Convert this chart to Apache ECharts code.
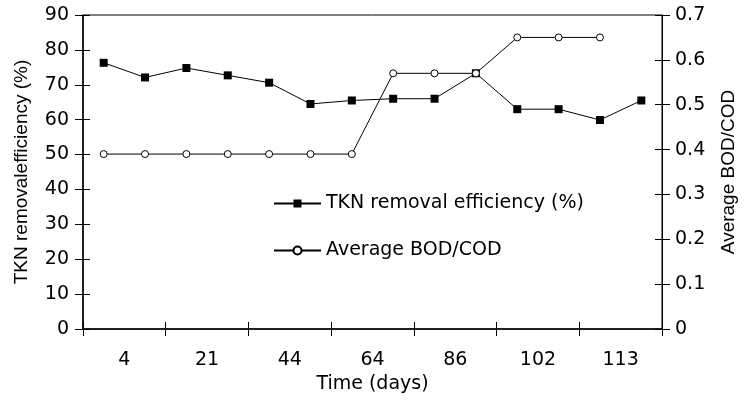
<!DOCTYPE html>
<html>
<head>
<meta charset="utf-8">
<script src="https://cdn.jsdelivr.net/npm/echarts@6/dist/echarts.min.js"></script>
<style>
  html, body { margin: 0; padding: 0; background: #fff; }
  #chart { width: 747px; height: 406px; }
</style>
</head>
<body>
<div id="chart"></div>
<script>
// sampling points (two per labelled period)
const samples = ['1', '2', '3', '4', '5', '6', '7', '8', '9', '10', '11', '12', '13', '14']
// labels printed under the axis
const dayLabels = ['4', '21', '44', '64', '86', '102', '113']
const tknRemoval = [76.3, 72.1, 74.8, 72.7, 70.6, 64.5, 65.5, 66, 66, 73.3, 63, 63, 59.9, 65.5]
const bodCod = [0.39, 0.39, 0.39, 0.39, 0.39, 0.39, 0.39, 0.57, 0.57, 0.57, 0.65, 0.65, 0.65, null]

// the original is a bit wider than tall, so horizontal text uses a wider face
const wideFont = 'DejaVu Sans, sans-serif'
const tallFont = 'Liberation Sans, Arial, sans-serif'
const black = '#000'

let chartDom = document.getElementById('chart')
let myChart = echarts.init(chartDom)

let labelText = { color: black, fontSize: 19, fontFamily: wideFont }
let sideName = { color: black, fontSize: 19, fontFamily: tallFont }

let option = {
  animation: false,
  backgroundColor: '#fff',
  grid: {
    left: 83,
    right: 85,
    top: 15,
    bottom: 77,
    show: true,
    borderColor: black,
    borderWidth: 1
  },
  legend: {
    orient: 'vertical',
    left: 268,
    top: 189,
    itemWidth: 47,
    itemHeight: 10,
    itemGap: 28,
    textStyle: labelText,
    data: ['TKN removal efficiency (%)', 'Average BOD/COD']
  },
  xAxis: [
    {
      // data axis, not shown
      type: 'category',
      data: samples,
      boundaryGap: true,
      show: false
    },
    {
      type: 'category',
      data: dayLabels,
      boundaryGap: true,
      position: 'bottom',
      name: 'Time (days)',
      nameLocation: 'middle',
      nameGap: 43,
      nameTextStyle: labelText,
      axisLine: { lineStyle: { color: black, width: 1.5 } },
      axisTick: { show: true, length: 7, lineStyle: { color: black } },
      axisLabel: Object.assign({ margin: 22 }, labelText)
    },
    {
      type: 'category',
      data: dayLabels,
      boundaryGap: true,
      position: 'bottom',
      axisLine: { show: false },
      axisTick: { show: true, inside: true, length: 7, lineStyle: { color: black } },
      axisLabel: { show: false }
    }
  ],
  yAxis: [
    {
      type: 'value',
      position: 'left',
      min: 0,
      max: 90,
      interval: 10,
      name: 'TKN removalefficiency (%)',
      nameLocation: 'middle',
      nameGap: 52,
      nameTextStyle: sideName,
      splitLine: { show: false },
      axisLine: { show: true, lineStyle: { color: black, width: 1.5 } },
      axisTick: { show: true, length: 8, lineStyle: { color: black } },
      axisLabel: Object.assign({ margin: 14 }, labelText)
    },
    {
      type: 'value',
      position: 'right',
      min: 0,
      max: 0.7,
      interval: 0.1,
      name: 'Average BOD/COD',
      nameLocation: 'middle',
      nameGap: 57,
      nameTextStyle: sideName,
      splitLine: { show: false },
      axisLine: { show: true, lineStyle: { color: black } },
      axisTick: { show: true, length: 8, lineStyle: { color: black } },
      axisLabel: Object.assign({ margin: 13 }, labelText)
    },
    {
      type: 'value',
      position: 'left',
      min: 0,
      max: 90,
      interval: 10,
      splitLine: { show: false },
      axisLine: { show: false },
      axisTick: { show: true, inside: true, length: 7, lineStyle: { color: black } },
      axisLabel: { show: false }
    },
    {
      type: 'value',
      position: 'right',
      min: 0,
      max: 0.7,
      interval: 0.1,
      splitLine: { show: false },
      axisLine: { show: false },
      axisTick: { show: true, inside: true, length: 7, lineStyle: { color: black } },
      axisLabel: { show: false }
    }
  ],
  series: [
    {
      name: 'TKN removal efficiency (%)',
      type: 'line',
      xAxisIndex: 0,
      yAxisIndex: 0,
      data: tknRemoval,
      symbol: 'rect',
      symbolSize: 8,
      lineStyle: { color: black, width: 1 },
      itemStyle: { color: black }
    },
    {
      name: 'Average BOD/COD',
      type: 'line',
      xAxisIndex: 0,
      yAxisIndex: 1,
      data: bodCod,
      symbol: 'circle',
      symbolSize: 7,
      showAllSymbol: true,
      lineStyle: { color: black, width: 1 },
      itemStyle: { color: '#fff', borderColor: black, borderWidth: 1 }
    }
  ]
}

myChart.setOption(option)
window.addEventListener('resize', () => myChart.resize())
</script>
</body>
</html>
